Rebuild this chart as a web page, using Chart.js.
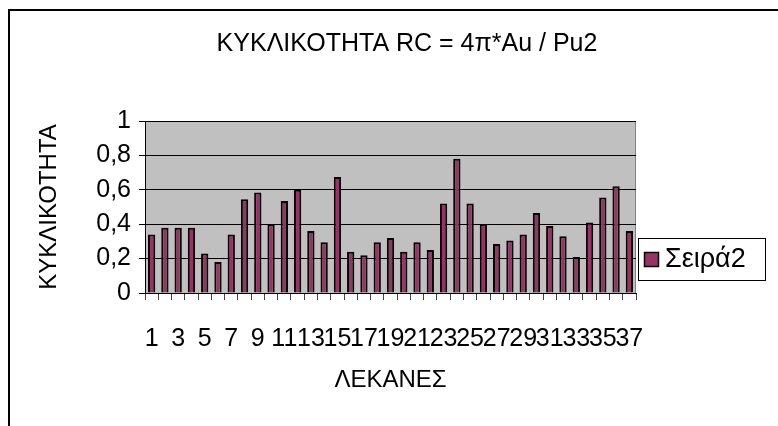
<!DOCTYPE html>
<html>
<head>
<meta charset="utf-8">
<script src="https://cdn.jsdelivr.net/npm/chart.js@4/dist/chart.umd.min.js"></script>
<style>
  html, body { margin: 0; padding: 0; background: #fff; }
  #wrap { width: 778px; height: 426px; }
</style>
</head>
<body>
<div id="wrap"><canvas id="myChart" width="778" height="426"></canvas></div>
<script>
const labels = [];
for (let i = 1; i <= 37; i++) labels.push(String(i));
const seriesName = 'Σειρά2';
const values = [0.34, 0.38, 0.38, 0.38, 0.23, 0.18, 0.34, 0.545, 0.585, 0.40, 0.535, 0.60, 0.36, 0.295, 0.675,
                0.24, 0.22, 0.295, 0.32, 0.24, 0.295, 0.25, 0.52, 0.78, 0.52, 0.40, 0.285, 0.305, 0.34, 0.465,
                0.39, 0.33, 0.21, 0.41, 0.555, 0.62, 0.36];
const yTicks = [0, 0.2, 0.4, 0.6, 0.8, 1];

const FONT = "'Liberation Sans', Arial, sans-serif";
const barColor = '#993366';

// gray plot area, outer frame and boxed legend
const decor = {
    id: 'decor',
    beforeDraw(chart) {
        const {ctx, chartArea: a} = chart;
        ctx.save();
        ctx.fillStyle = '#c0c0c0';
        ctx.fillRect(a.left, a.top, a.right - a.left, a.bottom - a.top);
        ctx.strokeStyle = '#808080';
        ctx.lineWidth = 1;
        ctx.strokeRect(a.left + 0.5, a.top + 0.5, a.right - a.left - 1, a.bottom - a.top);
        ctx.restore();
    },
    afterDraw(chart) {
        const ctx = chart.ctx;
        ctx.save();
        ctx.strokeStyle = '#000';
        ctx.lineWidth = 2;
        ctx.beginPath();
        ctx.moveTo(9, 426);
        ctx.lineTo(9, 10);
        ctx.lineTo(778, 10);
        ctx.stroke();

        // legend
        ctx.lineWidth = 1;
        ctx.strokeStyle = '#000';
        ctx.strokeRect(638.5, 238.5, 127, 42);
        ctx.fillStyle = barColor;
        ctx.fillRect(644, 252, 15, 15);
        ctx.lineWidth = 1.5;
        ctx.strokeRect(644.5, 252.5, 14, 14);
        ctx.fillStyle = '#000';
        ctx.font = '27px ' + FONT;
        ctx.textBaseline = 'middle';
        ctx.fillText(seriesName, 665, 260);
        ctx.restore();
    }
};

const data = {
    labels,
    datasets: [{
        label: seriesName,
        data: values,
        backgroundColor: barColor,
        borderColor: '#000',
        borderWidth: 2,
        barPercentage: 0.55,
        categoryPercentage: 1
    }]
};

const config = {
    type: 'bar',
    data,
    plugins: [decor],
    options: {
        responsive: false,
        animation: false,
        layout: { padding: { left: 36, right: 0, top: 0, bottom: 31 } },
        scales: {
            x: {
                grid: { display: true, drawOnChartArea: false, drawTicks: true, tickLength: 7, color: '#444', offset: true },
                border: { display: true, color: '#000', width: 1 },
                ticks: {
                    autoSkip: false, maxRotation: 0, minRotation: 0, padding: 24,
                    color: '#000', font: { family: FONT, size: 25 },
                    callback: (v, i) => (i % 2 === 0 ? labels[i] : '')
                },
                title: { display: true, text: 'ΛΕΚΑΝΕΣ', color: '#000', padding: 0, font: { family: FONT, size: 24, lineHeight: 1.2 } },
                afterFit: s => { s.height = 395 - 293; }
            },
            y: {
                min: 0, max: 1,
                afterBuildTicks: s => { s.ticks = yTicks.map(v => ({ value: v })); },
                grid: { color: '#000', tickLength: 6, lineWidth: 1 },
                border: { display: true, color: '#000', width: 1 },
                ticks: {
                    padding: 8, color: '#000', font: { family: FONT, size: 25 },
                    callback: v => String(+v.toFixed(1)).replace('.', ',')
                },
                title: { display: true, text: 'ΚΥΚΛΙΚΟΤΗΤΑ', color: '#000', padding: 0, font: { family: FONT, size: 24, lineHeight: 1.15 } },
                afterFit: s => { s.width = 145 - 36; }
            },
            yRight: {
                position: 'right', display: true,
                grid: { display: false }, border: { display: false },
                ticks: { display: false },
                afterFit: s => { s.width = 778 - 636; }
            }
        },
        plugins: {
            legend: { display: false },
            tooltip: { enabled: false },
            title: {
                display: true,
                text: 'ΚΥΚΛΙΚΟΤΗΤΑ RC = 4π*Au / Pu2',
                color: '#000',
                font: { family: FONT, size: 25, weight: 'normal', lineHeight: 1.2 },
                padding: { top: 29, bottom: 62 }
            }
        }
    }
};

const myChart = new Chart(document.getElementById('myChart'), config);
</script>
</body>
</html>
